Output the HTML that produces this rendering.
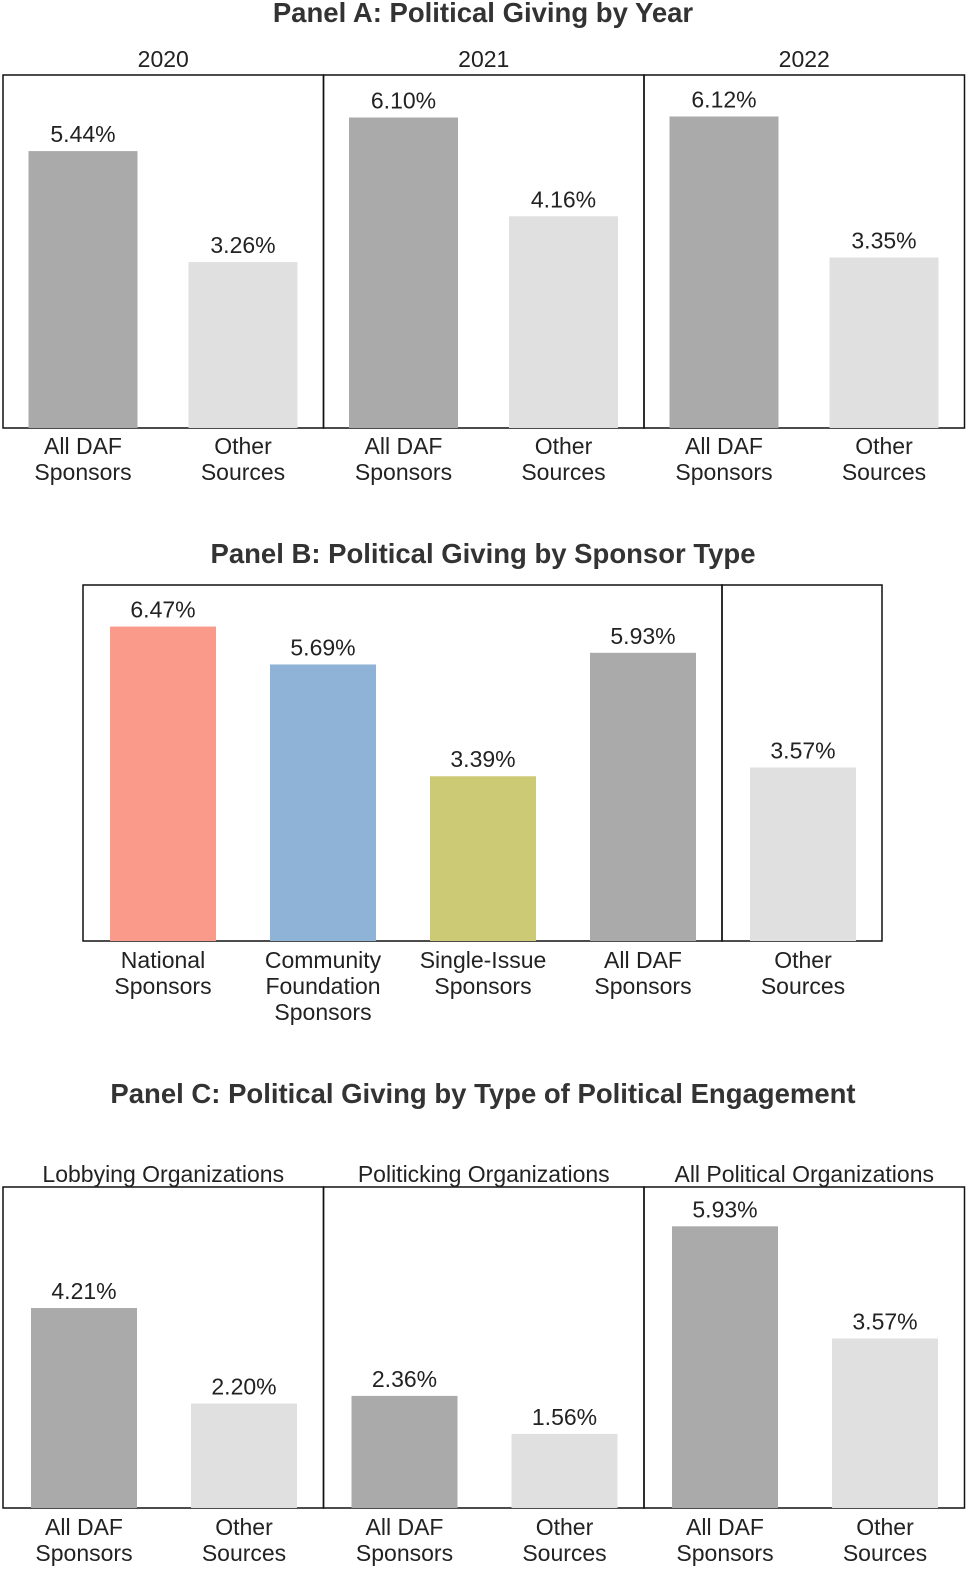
<!DOCTYPE html>
<html><head><meta charset="utf-8">
<style>
html,body{margin:0;padding:0;background:#fff;}
svg{display:block;font-family:"Liberation Sans",Arial,sans-serif;}
</style></head>
<body>
<svg id="chart" width="974" height="1577" viewBox="0 0 974 1577">
<text x="483" y="22" text-anchor="middle" font-size="27.5" font-weight="bold" fill="#333">Panel A: Political Giving by Year</text>
<text x="483" y="563" text-anchor="middle" font-size="27.5" font-weight="bold" fill="#333">Panel B: Political Giving by Sponsor Type</text>
<text x="483" y="1103" text-anchor="middle" font-size="27.5" font-weight="bold" fill="#333">Panel C: Political Giving by Type of Political Engagement</text>
</svg>
<script>
const NS="http://www.w3.org/2000/svg";
const svg=document.getElementById('chart');
// Panel A data
const yearsA=["2020","2021","2022"];
const dafA=[5.44,6.10,6.12];
const otherA=[3.26,4.16,3.35];
// Panel B data
const catsB=[["National","Sponsors"],["Community","Foundation","Sponsors"],["Single-Issue","Sponsors"],["All DAF","Sponsors"],["Other","Sources"]];
const valsB=[6.47,5.69,3.39,5.93,3.57];
// Panel C data
const facetsC=["Lobbying Organizations","Politicking Organizations","All Political Organizations"];
const dafC=[4.21,2.36,5.93];
const otherC=[2.20,1.56,3.57];

const colors={dark:"#aaaaaa",light:"#e0e0e0",salmon:"#fa9a8a",blue:"#8fb3d7",olive:"#cdca76"};
const FS=23;

function el(tag,attrs,parent){const e=document.createElementNS(NS,tag);for(const k in attrs)e.setAttribute(k,attrs[k]);(parent||svg).appendChild(e);return e;}
function txt(x,y,s,size,parent){const t=el('text',{x:x,y:y,'text-anchor':'middle','font-size':size,fill:'#222'},parent);t.textContent=s;return t;}
function frame(x0,x1,y0,y1){const r=el('rect',{x:x0,y:y0,width:x1-x0,height:y1-y0,fill:'none',stroke:'#111','stroke-width':1.5});

}
function bar(cx,w,v,base,scale,color,name){
  const h=v*scale;
  const r=el('rect',{x:cx-w/2,y:base-h,width:w,height:h,fill:color});
  
  
  const t=txt(cx,base-h-9,v.toFixed(2)+"%",FS);
  
  
}
function tick(cx,y,lines){lines.forEach((s,i)=>{const t=txt(cx,y+i*26,s,FS);
  
  });}

// Panel A
(function(){
  const top=75,base=428,scale=50.9,x0=3,pw=320.5;
  yearsA.forEach((y,i)=>{
    const px=x0+i*pw;
    frame(px,px+pw,top,base);
    const f=txt(px+pw/2,67,y,FS);
    
    
    const c1=px+80,c2=px+240;
    bar(c1,109,dafA[i],base,scale,colors.dark,'bar-daf-'+y);
    bar(c2,109,otherA[i],base,scale,colors.light,'bar-other-'+y);
    tick(c1,454,["All DAF","Sponsors"]);
    tick(c2,454,["Other","Sources"]);
  });
})();

// Panel B
(function(){
  const top=585,base=941,scale=48.6;
  frame(83,722,top,base);frame(722,882,top,base);
  const cols=[colors.salmon,colors.blue,colors.olive,colors.dark,colors.light];
  valsB.forEach((v,i)=>{
    const cx=163+i*160;
    bar(cx,106,v,base,scale,cols[i],'bar-sponsor-'+i);
    tick(cx,968,catsB[i]);
  });
})();

// Panel C
(function(){
  const top=1187,base=1508,scale=47.5,x0=3,pw=320.5;
  facetsC.forEach((n,i)=>{
    const px=x0+i*pw;
    frame(px,px+pw,top,base);
    const f=txt(px+pw/2,1182,n,FS);
    
    
    const c1=px+81,c2=px+241;
    bar(c1,106,dafC[i],base,scale,colors.dark,'bar-daf-c'+i);
    bar(c2,106,otherC[i],base,scale,colors.light,'bar-other-c'+i);
    tick(c1,1535,["All DAF","Sponsors"]);
    tick(c2,1535,["Other","Sources"]);
  });
})();
</script>
</body></html>
